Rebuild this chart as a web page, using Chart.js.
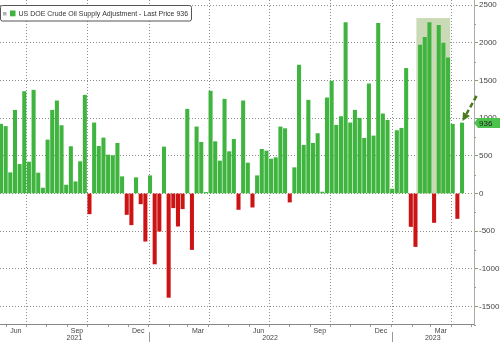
<!DOCTYPE html>
<html>
<head>
<meta charset="utf-8">
<script src="https://cdn.jsdelivr.net/npm/chart.js@4.4.0/dist/chart.umd.min.js"></script>
<style>
html, body { margin: 0; padding: 0; background: #fff; }
</style>
</head>
<body>
<canvas id="supplyChart" width="500" height="342"></canvas>
<script>
// US DOE crude oil supply adjustment, weekly, kb/d
var firstWeek = Date.UTC(2021, 4, 24);
var DAY = 86400000;

var supplyAdj = [
    920, 890, 275, 1105, 386, 1354, 417, 1372, 271, 71,
    710, 1105, 1230, 901, 111, 622, 155, 422, 1305, -271,
    937, 626, 737, 511, 502, 666, 222, -280, -417, 209,
    -138, -635, 235, -937, -502, 617, -1381, -191, -435, -204,
    1119, -746, 884, 679, 13, 1359, 688, 431, 1252, 555,
    719, -213, 1230, 404, -182, 235, 586, 564, 457, 475,
    884, 861, -115, 342, 1705, 639, 1239, 666, 795, 18,
    1270, 1492, 906, 1021, 2269, 937, 1105, 999, 733, 1456,
    764, 2260, 1057, 972, 58, 835, 866, 1661, -440, -706,
    1971, 2073, 2269, -386, 2233, 1998, 1803, 919, -333, 936
];
var lastPrice = 936;

var monthNames = ['Jan', 'Feb', 'Mar', 'Apr', 'May', 'Jun', 'Jul', 'Aug', 'Sep', 'Oct', 'Nov', 'Dec'];
var yearLabels = ['2021', '2022', '2023'];
var yTicks = [-1500, -1000, -500, 0, 500, 1000, 1500, 2000, 2500];

// shaded block behind the early 2023 spike (in weeks)
var highlightFrom = 89.2, highlightTo = 96.45, highlightTop = 2330;

var xMin = -0.215, xMax = 101.57;
var FONT = "'Liberation Sans', Arial, sans-serif";
var GRID = '#8c8c8c';

var weekLabels = supplyAdj.map(function (v, i) {
    return new Date(firstWeek + i * 7 * DAY).toISOString().slice(0, 10);
});

function weekPos(y, m) {
    return (Date.UTC(y, m, 1) - firstWeek) / (7 * DAY);
}

var monthTicks = [];
for (var yy = 2021; yy <= 2023; yy++) {
    for (var mm = 0; mm < 12; mm++) {
        var p = weekPos(yy, mm);
        if (p >= xMin && p <= xMax) monthTicks.push({ value: p, month: mm, year: yy });
    }
}

var decorPlugin = {
    id: 'decor',
    beforeDatasetsDraw: function (chart) {
        var ctx = chart.ctx, xs = chart.scales.x, ys = chart.scales.y, area = chart.chartArea;
        ctx.save();
        // quarter grid lines
        ctx.strokeStyle = GRID;
        ctx.lineWidth = 1;
        ctx.setLineDash([1, 2]);
        monthTicks.forEach(function (t) {
            if (t.month % 3 !== 0) return;
            var gx = Math.round(xs.getPixelForValue(t.value)) + 0.5;
            ctx.beginPath();
            ctx.moveTo(gx, area.top);
            ctx.lineTo(gx, area.bottom);
            ctx.stroke();
        });
        ctx.setLineDash([]);
        // highlight block
        var x1 = xs.getPixelForValue(highlightFrom), x2 = xs.getPixelForValue(highlightTo);
        var y1 = ys.getPixelForValue(highlightTop), y2 = ys.getPixelForValue(0);
        ctx.fillStyle = '#cbdab6';
        ctx.fillRect(x1, y1, x2 - x1, y2 - y1);
        ctx.restore();
    },
    afterDraw: function (chart) {
        var ctx = chart.ctx, xs = chart.scales.x, ys = chart.scales.y, area = chart.chartArea;
        ctx.save();

        // minor ticks on the value axis
        ctx.strokeStyle = '#8aa87a';
        ctx.lineWidth = 1;
        for (var v = -1750; v <= 2500; v += 250) {
            if (v % 500 === 0) continue;
            var my = Math.round(ys.getPixelForValue(v)) + 0.5;
            ctx.beginPath();
            ctx.moveTo(area.right, my);
            ctx.lineTo(area.right + 2, my);
            ctx.stroke();
        }

        // year row
        var jan22 = xs.getPixelForValue(weekPos(2022, 0));
        var jan23 = xs.getPixelForValue(weekPos(2023, 0));
        var bounds = [area.left, jan22, jan23, area.right];
        ctx.strokeStyle = '#999';
        [jan22, jan23].forEach(function (bx) {
            ctx.beginPath();
            ctx.moveTo(Math.round(bx) + 0.5, 332);
            ctx.lineTo(Math.round(bx) + 0.5, 342);
            ctx.stroke();
        });
        ctx.fillStyle = '#444';
        ctx.font = '7px ' + FONT;
        ctx.textAlign = 'center';
        ctx.textBaseline = 'middle';
        for (var i = 0; i < yearLabels.length; i++) {
            ctx.fillText(yearLabels[i], (bounds[i] + bounds[i + 1]) / 2, 338);
        }

        // legend box
        ctx.fillStyle = '#fff';
        ctx.strokeStyle = '#555';
        ctx.beginPath();
        ctx.roundRect(0.5, 5.5, 191, 15.5, 2);
        ctx.fill();
        ctx.stroke();
        ctx.fillStyle = '#b0b0b0';
        ctx.fillRect(3, 12, 3.5, 3.5);
        ctx.fillStyle = '#3fb23f';
        ctx.fillRect(10, 10.5, 5.5, 5.8);
        ctx.fillStyle = '#333';
        ctx.textAlign = 'left';
        ctx.font = '7px ' + FONT;
        ctx.fillText('US DOE Crude Oil Supply Adjustment - Last Price ' + lastPrice, 18.5, 13.8);

        // dashed arrow to the last bar
        var tipX = xs.getPixelForValue(supplyAdj.length - 1) + 0.5;
        var tipY = ys.getPixelForValue(lastPrice) - 2;
        var tailX = tipX + 14, tailY = tipY - 25;
        var ang = Math.atan2(tipY - tailY, tipX - tailX);
        var headLen = 8;
        var baseX = tipX - headLen * Math.cos(ang), baseY = tipY - headLen * Math.sin(ang);
        ctx.strokeStyle = '#4b7a1c';
        ctx.lineWidth = 2.5;
        ctx.setLineDash([5, 3]);
        ctx.beginPath();
        ctx.moveTo(tailX, tailY);
        ctx.lineTo(baseX, baseY);
        ctx.stroke();
        ctx.setLineDash([]);
        ctx.fillStyle = '#4b7a1c';
        ctx.beginPath();
        ctx.moveTo(tipX, tipY);
        ctx.lineTo(baseX + 4 * Math.sin(ang), baseY - 4 * Math.cos(ang));
        ctx.lineTo(baseX - 4 * Math.sin(ang), baseY + 4 * Math.cos(ang));
        ctx.closePath();
        ctx.fill();

        // last price tag
        var ty = ys.getPixelForValue(lastPrice);
        ctx.fillStyle = '#4cc24c';
        ctx.beginPath();
        ctx.moveTo(area.right, ty);
        ctx.lineTo(area.right + 4, ty - 5);
        ctx.lineTo(500, ty - 5);
        ctx.lineTo(500, ty + 5);
        ctx.lineTo(area.right + 4, ty + 5);
        ctx.closePath();
        ctx.fill();
        ctx.fillStyle = '#1e1e1e';
        ctx.font = '8px ' + FONT;
        ctx.textBaseline = 'middle';
        ctx.fillText(String(lastPrice), area.right + 5, ty + 0.5);

        ctx.restore();
    }
};

var ctx = document.getElementById('supplyChart').getContext('2d');
var supplyChart = new Chart(ctx, {
    type: 'bar',
    data: {
        labels: weekLabels,
        datasets: [{
            label: 'US DOE Crude Oil Supply Adjustment',
            data: supplyAdj.map(function (v, i) { return { x: i, y: v }; }),
            backgroundColor: function (c) {
                var v = c.raw ? c.raw.y : 0;
                return v < 0 ? '#cc1414' : '#3fb53f';
            },
            barThickness: 3.4,
            borderWidth: 0
        }]
    },
    options: {
        responsive: false,
        animation: false,
        devicePixelRatio: 1,
        layout: { padding: 0 },
        plugins: {
            legend: { display: false },
            tooltip: { enabled: false }
        },
        scales: {
            x: {
                type: 'linear',
                min: xMin,
                max: xMax,
                offset: false,
                afterBuildTicks: function (s) {
                    s.ticks = monthTicks.map(function (t) { return { value: t.value }; });
                },
                afterFit: function (s) {
                    s.height = 18;
                    s.paddingLeft = 0;
                    s.paddingRight = 0;
                },
                grid: {
                    offset: false,
                    drawOnChartArea: false,
                    tickColor: '#999',
                    tickLength: 3
                },
                border: { color: '#888' },
                ticks: {
                    autoSkip: false,
                    maxRotation: 0,
                    labelOffset: -10.5,
                    padding: 0,
                    color: '#444',
                    font: { size: 7, family: FONT },
                    callback: function (v, i) {
                        var t = monthTicks[i];
                        if (!t || t.month % 3 !== 0) return '';
                        return monthNames[(t.month + 11) % 12];
                    }
                }
            },
            y: {
                position: 'right',
                min: -1735,
                max: 2570,
                afterBuildTicks: function (s) {
                    s.ticks = yTicks.map(function (v) { return { value: v }; });
                },
                afterFit: function (s) {
                    s.width = 26;
                    s.paddingTop = 0;
                    s.paddingBottom = 0;
                },
                grid: {
                    lineWidth: 1,
                    color: GRID,
                    tickColor: '#7fa36f',
                    tickLength: 4,
                    tickBorderDash: []
                },
                border: { color: '#aaa', dash: [1, 2] },
                ticks: {
                    padding: 1,
                    color: '#444',
                    font: { size: 8, family: FONT },
                    callback: function (v) { return String(v); }
                }
            }
        }
    },
    plugins: [decorPlugin]
});
</script>
</body>
</html>
